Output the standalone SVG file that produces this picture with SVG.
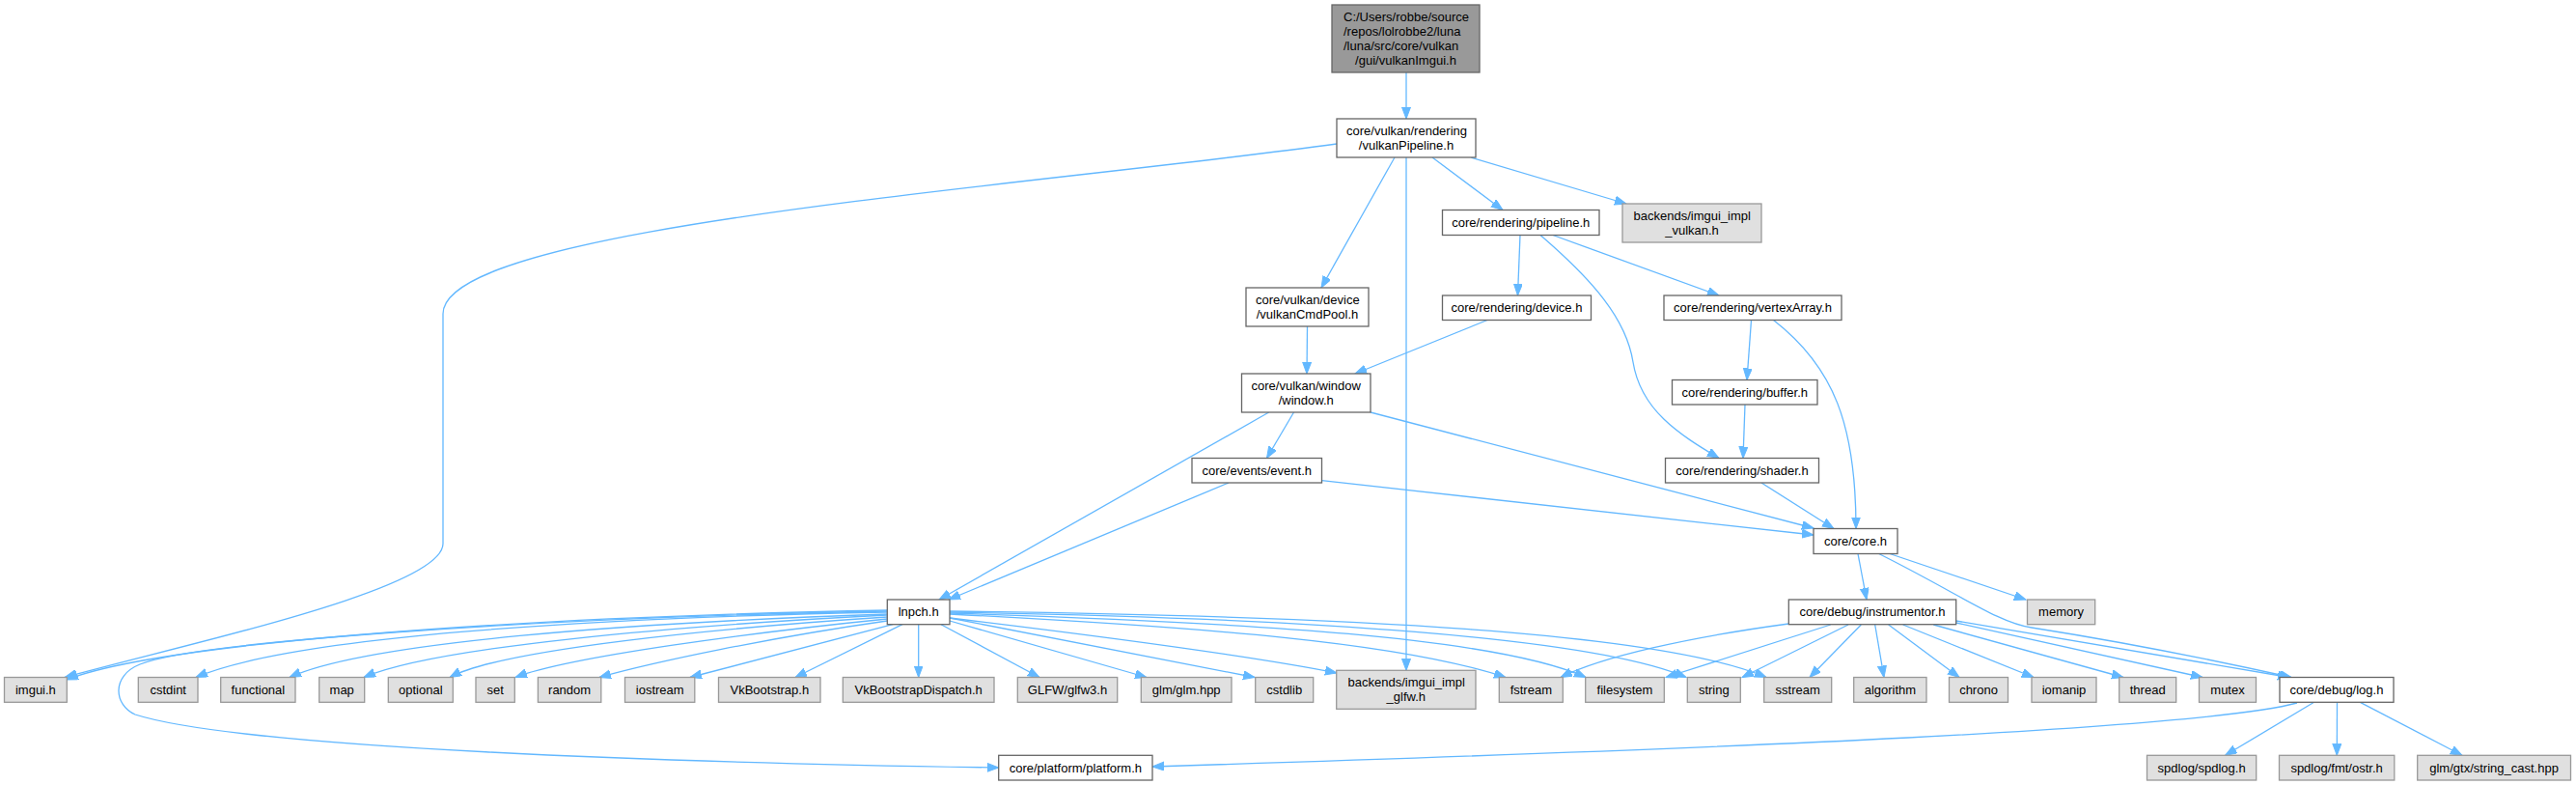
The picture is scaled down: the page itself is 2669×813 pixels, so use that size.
<svg xmlns="http://www.w3.org/2000/svg" width="2669" height="813" viewBox="0 0 2669 813">
<style>
.e{fill:none;stroke:#63B8FF;stroke-width:1.3;marker-end:url(#a)}
rect{stroke-width:1.3}
.w{fill:#FFFFFF;stroke:#666666}
.g{fill:#E0E0E0;stroke:#999999}
.r{fill:#999999;stroke:#666666}
text{font-family:"Liberation Sans",Arial,Helvetica,sans-serif;font-size:13px;fill:#000000}
.c{text-anchor:middle}
</style>
<defs>
<marker id="a" markerUnits="userSpaceOnUse" markerWidth="13" markerHeight="10" refX="12" refY="4.5" orient="auto" viewBox="0 0 13 10">
<path d="M0,0 L12,4.5 L0,9 z" fill="#63B8FF" stroke="#63B8FF" stroke-width="1"/>
</marker>
</defs>
<g id="edges">
<path class="e" d="M1457,75 L1457,123"/>
<path class="e" d="M1385,149 C1050,195 459,235 459,325 L459,563 C459,610 200,665 67,701.5"/>
<path class="e" d="M1445,163 L1369,298"/>
<path class="e" d="M1457,163 L1457,694.3"/>
<path class="e" d="M1484,163 L1557,217.5"/>
<path class="e" d="M1524,163 L1685,211"/>
<path class="e" d="M1575,243.5 L1572.5,306"/>
<path class="e" d="M1609,243.5 L1781,306"/>
<path class="e" d="M1596,243.5 C1650,290 1685,330 1692,375 C1700,425 1740,450 1781,474.5"/>
<path class="e" d="M1354.5,338 L1354,387"/>
<path class="e" d="M1541,331.5 L1404,387"/>
<path class="e" d="M1814.5,331.5 L1810,393.5"/>
<path class="e" d="M1837.5,331.5 C1900,380 1923,440 1923,547.5"/>
<path class="e" d="M1808,419 L1806,474.5"/>
<path class="e" d="M1825,500 L1900,547.5"/>
<path class="e" d="M1340.5,427 L1312.5,474.5"/>
<path class="e" d="M1314.7,427 L973,621"/>
<path class="e" d="M1420,427 L1879,547"/>
<path class="e" d="M1273,500 L983,621"/>
<path class="e" d="M1369.5,497.7 L1879,554"/>
<path class="e" d="M1925,573.5 L1934,621"/>
<path class="e" d="M1958,573.5 L2099,621"/>
<path class="e" d="M1946.7,573.5 C2030,615 2070,645 2105,650 C2200,665 2300,685 2374,701.5"/>
<path class="e" d="M1853.3,646 C1750,660 1660,680 1617,701.5"/>
<path class="e" d="M1896.7,647 L1726,701.5"/>
<path class="e" d="M1915,647 L1805,701.5"/>
<path class="e" d="M1928.3,647 L1875,701.5"/>
<path class="e" d="M1942.7,647 L1952,701.5"/>
<path class="e" d="M1956.7,647 L2030,701.5"/>
<path class="e" d="M1971.7,647 L2107,701.5"/>
<path class="e" d="M2003.3,647 L2200,701.5"/>
<path class="e" d="M2026.7,645 L2282,701.5"/>
<path class="e" d="M2026.7,643 L2372,701.5"/>
<path class="e" d="M919.3,632 C500,640 160,668 69,704"/>
<path class="e" d="M919.3,634 C600,640 300,660 203,701.5"/>
<path class="e" d="M919.3,636 C650,645 380,665 300,701.5"/>
<path class="e" d="M919.3,637 C700,648 450,670 377,701.5"/>
<path class="e" d="M919.3,639 C750,650 520,672 466,701.5"/>
<path class="e" d="M919.3,641 C780,655 590,680 534,701.5"/>
<path class="e" d="M919.3,643 C800,660 680,685 621,701.5"/>
<path class="e" d="M925,646.7 L715,701.5"/>
<path class="e" d="M935,646.7 L824,701.5"/>
<path class="e" d="M951.7,646.7 L951.7,701.5"/>
<path class="e" d="M975,646.7 L1077,701.5"/>
<path class="e" d="M984,643 L1188,701.5"/>
<path class="e" d="M984,640 L1300,701.5"/>
<path class="e" d="M984,640 C1150,660 1300,680 1385,697"/>
<path class="e" d="M984,636 C1250,650 1450,665 1560,701.5"/>
<path class="e" d="M984,635 C1300,645 1550,660 1643,701.5"/>
<path class="e" d="M984,634 C1350,640 1650,660 1747,701.5"/>
<path class="e" d="M984,633 C1400,638 1720,655 1830,701.5"/>
<path class="e" d="M919.3,633 C550,640 200,665 145,688 C115,700 118,730 140,740 C250,775 700,790 1034.7,795"/>
<path class="e" d="M2380,728 C2280,755 1800,775 1194,794"/>
<path class="e" d="M2397.6,727.3 L2305.6,782.3"/>
<path class="e" d="M2421.5,727.3 L2421.3,782.3"/>
<path class="e" d="M2445.4,727.3 L2551,782.3"/>
</g>
<g id="n_root"><rect class="r" x="1380" y="5" width="153" height="70"/><text x="1392" y="22">C:/Users/robbe/source</text><text x="1392" y="37">/repos/lolrobbe2/luna</text><text x="1392" y="52">/luna/src/core/vulkan</text><text class="c" x="1456.5" y="67">/gui/vulkanImgui.h</text></g>
<g id="n_vkpipe"><rect class="w" x="1385" y="123" width="144" height="40"/><text x="1395" y="140">core/vulkan/rendering</text><text class="c" x="1457" y="155">/vulkanPipeline.h</text></g>
<g id="n_pipeline"><rect class="w" x="1494.5" y="217.5" width="162.5" height="26"/><text class="c" x="1575.75" y="235">core/rendering/pipeline.h</text></g>
<g id="n_impl_vulkan"><rect class="g" x="1681" y="211" width="144" height="40"/><text x="1692.5" y="228">backends/imgui_impl</text><text class="c" x="1753" y="243">_vulkan.h</text></g>
<g id="n_cmdpool"><rect class="w" x="1291" y="298" width="127" height="40"/><text x="1301" y="315">core/vulkan/device</text><text class="c" x="1354.5" y="330">/vulkanCmdPool.h</text></g>
<g id="n_device"><rect class="w" x="1494.5" y="306" width="154" height="25.5"/><text class="c" x="1571.5" y="323.3">core/rendering/device.h</text></g>
<g id="n_vertexarray"><rect class="w" x="1724" y="306" width="184" height="25.5"/><text class="c" x="1816" y="323.3">core/rendering/vertexArray.h</text></g>
<g id="n_window"><rect class="w" x="1286.5" y="387" width="133.5" height="40"/><text x="1296.5" y="404">core/vulkan/window</text><text class="c" x="1353.25" y="419">/window.h</text></g>
<g id="n_buffer"><rect class="w" x="1732.5" y="393.5" width="150.5" height="25.5"/><text class="c" x="1807.75" y="410.8">core/rendering/buffer.h</text></g>
<g id="n_event"><rect class="w" x="1235" y="474.5" width="134.5" height="25.5"/><text class="c" x="1302.25" y="491.8">core/events/event.h</text></g>
<g id="n_shader"><rect class="w" x="1725.5" y="474.5" width="159" height="25.5"/><text class="c" x="1805" y="491.8">core/rendering/shader.h</text></g>
<g id="n_core"><rect class="w" x="1879" y="547.5" width="87" height="26"/><text class="c" x="1922.5" y="565">core/core.h</text></g>
<g id="n_lnpch"><rect class="w" x="919.3" y="621" width="64.7" height="25.7"/><text class="c" x="951.65" y="638.4">lnpch.h</text></g>
<g id="n_instr"><rect class="w" x="1853.3" y="621" width="173.4" height="25.7"/><text class="c" x="1940" y="638.4">core/debug/instrumentor.h</text></g>
<g id="n_memory"><rect class="g" x="2100.5" y="621" width="70.2" height="25.7"/><text class="c" x="2135.6" y="638.4">memory</text></g>
<g id="n_imgui"><rect class="g" x="4.5" y="701.5" width="64.8" height="25.8"/><text class="c" x="36.9" y="718.9">imgui.h</text></g>
<g id="n_cstdint"><rect class="g" x="143.3" y="701.5" width="61.7" height="25.8"/><text class="c" x="174.2" y="718.9">cstdint</text></g>
<g id="n_functional"><rect class="g" x="228.7" y="701.5" width="77.3" height="25.8"/><text class="c" x="267.4" y="718.9">functional</text></g>
<g id="n_map"><rect class="g" x="330.7" y="701.5" width="47" height="25.8"/><text class="c" x="354.2" y="718.9">map</text></g>
<g id="n_optional"><rect class="g" x="402.3" y="701.5" width="67" height="25.8"/><text class="c" x="435.8" y="718.9">optional</text></g>
<g id="n_set"><rect class="g" x="493" y="701.5" width="40.3" height="25.8"/><text class="c" x="513.2" y="718.9">set</text></g>
<g id="n_random"><rect class="g" x="557.4" y="701.5" width="65.4" height="25.8"/><text class="c" x="590.1" y="718.9">random</text></g>
<g id="n_iostream"><rect class="g" x="647.5" y="701.5" width="72.3" height="25.8"/><text class="c" x="683.7" y="718.9">iostream</text></g>
<g id="n_vkbootstrap"><rect class="g" x="744.5" y="701.5" width="105.5" height="25.8"/><text class="c" x="797.3" y="718.9">VkBootstrap.h</text></g>
<g id="n_vkdispatch"><rect class="g" x="873.3" y="701.5" width="156.7" height="25.8"/><text class="c" x="951.7" y="718.9">VkBootstrapDispatch.h</text></g>
<g id="n_glfw3"><rect class="g" x="1054.3" y="701.5" width="103.4" height="25.8"/><text class="c" x="1106" y="718.9">GLFW/glfw3.h</text></g>
<g id="n_glm"><rect class="g" x="1182.3" y="701.5" width="93.7" height="25.8"/><text class="c" x="1229.2" y="718.9">glm/glm.hpp</text></g>
<g id="n_cstdlib"><rect class="g" x="1300.7" y="701.5" width="60" height="25.8"/><text class="c" x="1330.7" y="718.9">cstdlib</text></g>
<g id="n_impl_glfw"><rect class="g" x="1384.7" y="694.3" width="144.3" height="40"/><text x="1396.5" y="711.3">backends/imgui_impl</text><text class="c" x="1456.8" y="726.3">_glfw.h</text></g>
<g id="n_fstream"><rect class="g" x="1553.3" y="701.5" width="66" height="25.8"/><text class="c" x="1586.3" y="718.9">fstream</text></g>
<g id="n_filesystem"><rect class="g" x="1642.7" y="701.5" width="81.6" height="25.8"/><text class="c" x="1683.5" y="718.9">filesystem</text></g>
<g id="n_string"><rect class="g" x="1748.3" y="701.5" width="55" height="25.8"/><text class="c" x="1775.8" y="718.9">string</text></g>
<g id="n_sstream"><rect class="g" x="1827.7" y="701.5" width="70" height="25.8"/><text class="c" x="1862.7" y="718.9">sstream</text></g>
<g id="n_algorithm"><rect class="g" x="1920.7" y="701.5" width="75.3" height="25.8"/><text class="c" x="1958.4" y="718.9">algorithm</text></g>
<g id="n_chrono"><rect class="g" x="2019.5" y="701.5" width="61" height="25.8"/><text class="c" x="2050" y="718.9">chrono</text></g>
<g id="n_iomanip"><rect class="g" x="2105" y="701.5" width="67" height="25.8"/><text class="c" x="2138.5" y="718.9">iomanip</text></g>
<g id="n_thread"><rect class="g" x="2195.7" y="701.5" width="59" height="25.8"/><text class="c" x="2225.2" y="718.9">thread</text></g>
<g id="n_mutex"><rect class="g" x="2278.5" y="701.5" width="59" height="25.8"/><text class="c" x="2308" y="718.9">mutex</text></g>
<g id="n_log"><rect class="w" x="2362" y="701.5" width="118" height="25.8"/><text class="c" x="2421" y="718.9">core/debug/log.h</text></g>
<g id="n_platform"><rect class="w" x="1034.7" y="782.3" width="159.3" height="25.7"/><text class="c" x="1114.35" y="799.7">core/platform/platform.h</text></g>
<g id="n_spdlog"><rect class="g" x="2224.5" y="782.3" width="113.2" height="25.7"/><text class="c" x="2281.1" y="799.7">spdlog/spdlog.h</text></g>
<g id="n_ostr"><rect class="g" x="2361.5" y="782.3" width="119.3" height="25.7"/><text class="c" x="2421.1" y="799.7">spdlog/fmt/ostr.h</text></g>
<g id="n_stringcast"><rect class="g" x="2504.7" y="782.3" width="158.8" height="25.7"/><text class="c" x="2584.1" y="799.7">glm/gtx/string_cast.hpp</text></g>
</svg>
